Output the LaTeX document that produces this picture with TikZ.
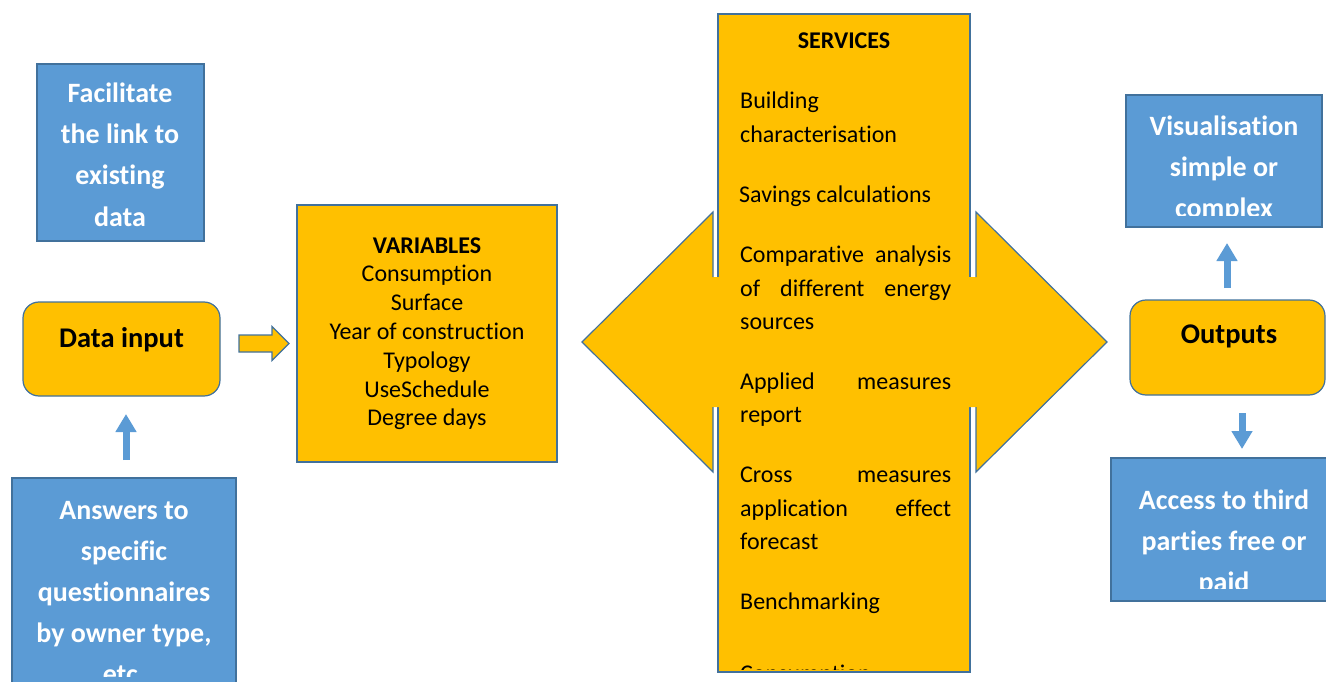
\documentclass[tikz,border=0pt]{standalone}
\usepackage{fontspec}
\setmainfont{Carlito}[Ligatures={NoCommon}]
\usetikzlibrary{arrows.meta,calc}
\definecolor{myorange}{HTML}{FFC000}
\definecolor{myblue}{HTML}{5B9BD5}
\definecolor{myedge}{HTML}{41719C}
\begin{document}
\begin{tikzpicture}[x=1pt,y=-1pt,
 bluebox/.style={draw=myedge, line width=1.2pt, fill=myblue, inner sep=0pt, outer sep=0pt},
 orangebox/.style={draw=myedge, line width=1.2pt, fill=myorange, inner sep=0pt, outer sep=0pt},
 roundbox/.style={orangebox, rounded corners=16pt},
 bluetext/.style={text=white, font=\fontsize{28}{34}\selectfont\bfseries, anchor=base, inner sep=0pt},
 blacktitle/.style={text=black, font=\fontsize{28.5}{34}\selectfont\bfseries, anchor=base, inner sep=0pt},
 vartext/.style={font=\fontsize{24}{29}\selectfont, anchor=base, inner sep=0pt},
 servtext/.style={font=\fontsize{24}{29}\selectfont, anchor=base west, inner sep=0pt},
 bluearrow/.style={draw=myblue, line width=7pt, -{Triangle[width=20pt,length=18pt]}},
 blockarrow/.style={draw=myedge, line width=1.2pt, fill=myorange, line join=miter},
 orangefill/.style={fill=myorange, draw=none}
]
\useasboundingbox (0,0) rectangle (1326,682);

% ---------- left column ----------
\node[bluebox, minimum width=167pt, minimum height=177pt] (fac) at (120.5,152.5) {};
\foreach \t [count=\i] in {Facilitate, the link to, existing, data}
  \node[bluetext] (fac-\i) at (120, {103+41*(\i-1)}) {\t};

\node[roundbox, minimum width=197pt, minimum height=94pt] (din) at (121.5,349) {};
\node[blacktitle] (din-t) at (121.5,347) {Data input};

\node[bluebox, minimum width=224pt, minimum height=212pt] (ans) at (124,584) {};
\begin{scope}
  \clip (12,478) rectangle (236,676);
  \foreach \t [count=\i] in {Answers to, specific, questionnaires, {by owner type,}, etc.}
    \node[bluetext] (ans-\i) at (124, {519+41*(\i-1)}) {\t};
\end{scope}

\coordinate (a1s) at (126,460);
\coordinate (a1e) at (126,414);
\draw[bluearrow] (a1s) -- (a1e);

% block arrow data input -> variables
\coordinate (r1s) at (239,343.5);
\coordinate (r1e) at (289,343.5);
\draw[blockarrow] (r1s) ++(0,-8.5) -- ++(33,0) -- ++(0,-8.5) -- (r1e) -- ++(-17,17) -- ++(0,-8.5) -- ++(-33,0) -- cycle;

% ---------- variables ----------
\node[orangebox, minimum width=260pt, minimum height=257pt] (var) at (427,333.5) {};
\node[vartext, font=\fontsize{24}{29}\selectfont\bfseries] (var-0) at (427,253) {VARIABLES};
\foreach \t [count=\i] in {Consumption, Surface, Year of construction, Typology, UseSchedule, Degree days}
  \node[vartext] (var-\i) at (427, {253+28.8*\i}) {\t};

% ---------- services ----------
\node[orangebox, minimum width=252pt, minimum height=658pt] (serv) at (844,343) {};
% double arrow over the box
\path[orangefill] (582,342) -- (713,212) -- (713,277) -- (976,277) -- (976,212) -- (1107,342)
  -- (976,472) -- (976,407) -- (713,407) -- (713,472) -- cycle;
\draw[draw=myedge, line width=1.2pt, line join=miter] (713,277) -- (713,212) -- (582,342) -- (713,472) -- (713,407);
\draw[draw=myedge, line width=1.2pt, line join=miter] (976,277) -- (976,212) -- (1107,342) -- (976,472) -- (976,407);

\node[vartext, font=\fontsize{24}{29}\selectfont\bfseries] (serv-0) at (844,49) {SERVICES};
\node[servtext] (serv-1) at (740,109) {Building};
\node[servtext] (serv-2) at (740,143) {characterisation};
\node[servtext] (serv-3) at (739,202) {Savings calculations};
\node[servtext] (serv-4) at (740,262) {\hbox to 211pt{Comparative\hfill analysis}};
\node[servtext] (serv-5) at (740,296) {\hbox to 211pt{of\hfill different\hfill energy}};
\node[servtext] (serv-6) at (740,329) {sources};
\node[servtext] (serv-7) at (740,389) {\hbox to 211pt{Applied\hfill measures}};
\node[servtext] (serv-8) at (740,422) {report};
\node[servtext] (serv-9) at (740,482) {\hbox to 211pt{Cross\hfill measures}};
\node[servtext] (serv-10) at (740,516) {\hbox to 211pt{application\hfill effect}};
\node[servtext] (serv-11) at (740,549) {forecast};
\node[servtext] (serv-12) at (740,609) {Benchmarking};
\begin{scope}
  \clip (718,14) rectangle (970,669);
  \node[servtext] (serv-13) at (740,681) {Consumption};
\end{scope}

% ---------- right column ----------
\node[bluebox, minimum width=196pt, minimum height=132pt] (vis) at (1224,161) {};
\begin{scope}
  \clip (1126,95) rectangle (1322,215);
  \foreach \t [count=\i] in {Visualisation, simple or, complex}
    \node[bluetext] (vis-\i) at (1224, {136+41*(\i-1)}) {\t};
\end{scope}

\node[roundbox, minimum width=195pt, minimum height=95pt] (out) at (1227.5,347.5) {};
\node[blacktitle] (out-t) at (1229,343) {Outputs};

\node[bluebox, minimum width=219pt, minimum height=143pt] (acc) at (1220.5,529.5) {};
\begin{scope}
  \clip (1111,458) rectangle (1330,588);
  \foreach \t [count=\i] in {Access to third, parties free or, paid}
    \node[bluetext] (acc-\i) at (1224, {509+41*(\i-1)}) {\t};
\end{scope}

\coordinate (a2s) at (1227,288);
\coordinate (a2e) at (1227,243);
\draw[bluearrow] (a2s) -- (a2e);
\coordinate (a3s) at (1242,413);
\coordinate (a3e) at (1242,449);
\draw[bluearrow] (a3s) -- (a3e);
\end{tikzpicture}
\end{document}
